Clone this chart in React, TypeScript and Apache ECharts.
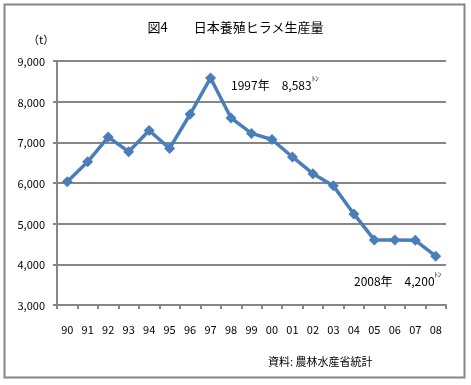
import React, { useEffect, useRef } from "react";
import * as echarts from "echarts";

const categories = ["90","91","92","93","94","95","96","97","98","99","00","01","02","03","04","05","06","07","08"];
const production = [6030, 6520, 7130, 6770, 7290, 6850, 7690, 8583, 7600, 7220, 7070, 6640, 6230, 5930, 5240, 4600, 4600, 4590, 4200];
const yTicks = { min: 3000, max: 9000, interval: 1000 };
const titleText = "図4　　日本養殖ヒラメ生産量";
const unitText = "（t）";
const sourceText = "資料: 農林水産省統計";
const annotations: Record<number, { year: string; value: string }> = {
  7: { year: "1997年", value: "8,583" },
  18: { year: "2008年", value: "4,200" },
};

const FONT = "'Noto Sans CJK JP', 'Noto Sans', sans-serif";
const GRAY = "#868686";
const BLUE = "#4A7EBB";

export default function App() {
  const ref = useRef<HTMLDivElement>(null);
  useEffect(() => {
    if (!ref.current) return;
    const chart = echarts.init(ref.current, null, { renderer: "svg" });
    const data = production.map((v, i) => {
      const a = annotations[i];
      if (!a) return v;
      const is97 = i === 7;
      return {
        value: v,
        label: {
          show: true,
          position: is97 ? "right" : "bottom",
          offset: is97 ? [10, 5] : [-38, 4],
          formatter: `{a|${a.year}　${a.value}}{s|ﾄﾝ}`,
          rich: {
            a: { fontSize: 12, color: "#000", fontFamily: FONT, lineHeight: 16, verticalAlign: "bottom" },
            s: { fontSize: 7, color: "#000", fontFamily: FONT, lineHeight: 16, verticalAlign: "top", padding: [0, 0, 6, 0] },
          },
        },
      };
    });
    chart.setOption({
      animation: false,
      textStyle: { fontFamily: FONT },
      grid: { left: 57, right: 25, top: 61, bottom: 80 },
      title: {
        text: titleText,
        left: "center",
        top: 15,
        textStyle: { fontSize: 13, fontWeight: "normal", color: "#000", fontFamily: FONT },
      },
      graphic: [
        {
          type: "rect",
          shape: { x: 4.5, y: 4.5, width: 460, height: 373 },
          style: { fill: "none", stroke: GRAY, lineWidth: 2 },
          silent: true,
        },
        {
          type: "text",
          x: 28,
          y: 33,
          style: { text: unitText, fontSize: 11, fill: "#000", fontFamily: FONT },
        },
        {
          type: "text",
          x: 268,
          y: 355,
          style: { text: sourceText, fontSize: 11, fill: "#000", fontFamily: FONT },
        },
      ],
      xAxis: {
        type: "category",
        data: categories,
        boundaryGap: true,
        axisLine: { show: true, lineStyle: { color: GRAY, width: 2 } },
        axisTick: { show: true, length: 4, alignWithLabel: false, lineStyle: { color: GRAY, width: 2 } },
        axisLabel: { color: "#000", fontSize: 11, margin: 18, interval: 0, fontFamily: FONT },
        splitLine: { show: false },
      },
      yAxis: {
        type: "value",
        min: yTicks.min,
        max: yTicks.max,
        interval: yTicks.interval,
        axisLine: { show: true, lineStyle: { color: GRAY, width: 2 } },
        axisTick: { show: true, length: 4, lineStyle: { color: GRAY, width: 2 } },
        axisLabel: {
          color: "#000",
          fontSize: 11,
          margin: 12,
          fontFamily: FONT,
          formatter: (v: number) => v.toLocaleString("en-US"),
        },
        splitLine: { show: true, lineStyle: { color: GRAY, width: 2 } },
      },
      series: [
        {
          type: "line",
          data,
          symbol: "diamond",
          symbolSize: 11,
          lineStyle: { color: BLUE, width: 3.5 },
          itemStyle: { color: BLUE },
        },
      ],
    });
    return () => chart.dispose();
  }, []);
  return <div ref={ref} style={{ position: "fixed", left: 0, top: 0, width: 471, height: 385 }} />;
}
